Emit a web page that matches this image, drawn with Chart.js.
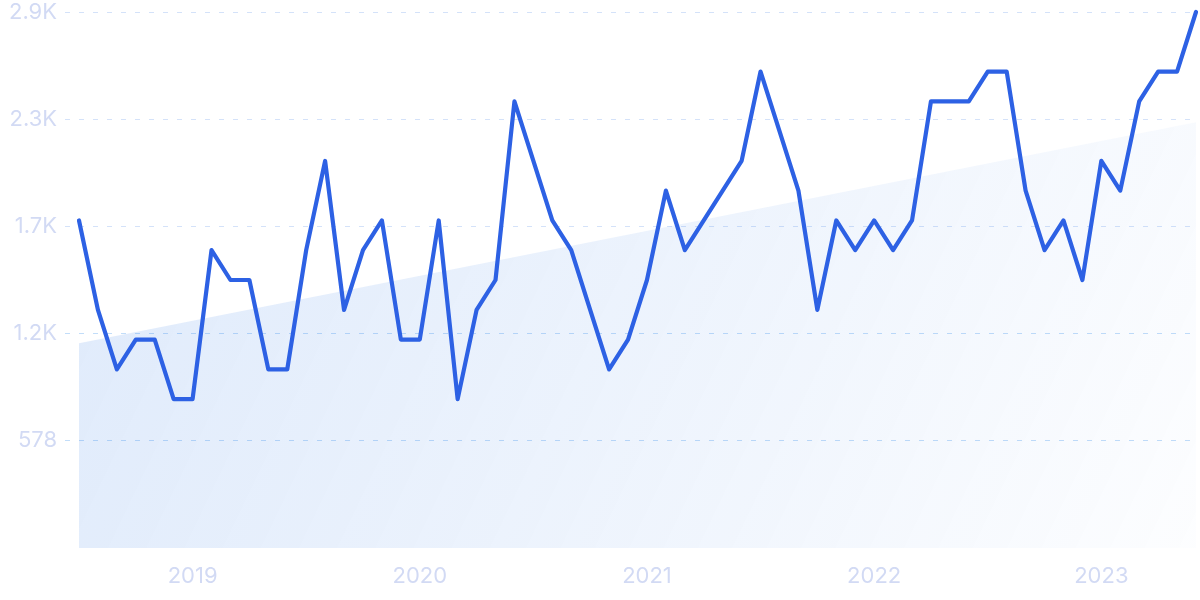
<!DOCTYPE html>
<html>
<head>
<meta charset="utf-8">
<script src="https://cdn.jsdelivr.net/npm/chart.js@4.4.1/dist/chart.umd.min.js"></script>
<style>
  html, body { margin: 0; padding: 0; background: #ffffff; }
  #wrap { width: 1200px; height: 600px; position: relative; }
</style>
</head>
<body>
<div id="wrap"><canvas id="c"></canvas></div>
<script>
// Monthly categories, Jul 2018 - Jun 2023
const months = [
  '2018-07','2018-08','2018-09','2018-10','2018-11','2018-12',
  '2019-01','2019-02','2019-03','2019-04','2019-05','2019-06','2019-07','2019-08','2019-09','2019-10','2019-11','2019-12',
  '2020-01','2020-02','2020-03','2020-04','2020-05','2020-06','2020-07','2020-08','2020-09','2020-10','2020-11','2020-12',
  '2021-01','2021-02','2021-03','2021-04','2021-05','2021-06','2021-07','2021-08','2021-09','2021-10','2021-11','2021-12',
  '2022-01','2022-02','2022-03','2022-04','2022-05','2022-06','2022-07','2022-08','2022-09','2022-10','2022-11','2022-12',
  '2023-01','2023-02','2023-03','2023-04','2023-05','2023-06'
];

// Series values
const values = [
  1766, 1284, 963, 1124, 1124, 803, 803, 1606, 1445, 1445,
  963, 963, 1606, 2087, 1284, 1606, 1766, 1124, 1124, 1766,
  803, 1284, 1445, 2408, 2087, 1766, 1606, 1284, 963, 1124,
  1445, 1927, 1606, 1766, 1927, 2087, 2569, 2248, 1927, 1284,
  1766, 1606, 1766, 1606, 1766, 2408, 2408, 2408, 2569, 2569,
  1927, 1606, 1766, 1445, 2087, 1927, 2408, 2569, 2569, 2890
];

// Trend band: start and end values
const trendStart = 1104;
const trendEnd = 2296;

// Axis ticks
const yTickValues = [578, 1156, 1734, 2312, 2890];
const yTickLabels = ['578', '1.2K', '1.7K', '2.3K', '2.9K'];
const xTickLabels = ['2019', '2020', '2021', '2022', '2023'];
const yMax = 2890;

const tickColor = '#d2daf4';
const gridColorUpper = '#d4e2f9';
const gridColorLower = '#c2ddf9';

function gridColorFor(ctx) {
  const v = ctx.tick ? ctx.tick.value : 0;
  return v <= 1156 ? gridColorLower : gridColorUpper;
}

const ctx = document.getElementById('c').getContext('2d');

function trendGradient(context) {
  const chart = context.chart;
  const a = chart.chartArea;
  if (!a) return 'rgba(45,120,230,0.1)';
  const g = chart.ctx.createLinearGradient(a.left, a.top, a.right, a.bottom);
  g.addColorStop(0, 'rgba(45,120,230,0.16)');
  g.addColorStop(0.5, 'rgba(45,120,230,0.09)');
  g.addColorStop(1, 'rgba(45,120,230,0.01)');
  return g;
}

new Chart(ctx, {
  type: 'line',
  data: {
    labels: months,
    datasets: [
      {
        data: values,
        borderColor: '#2d61e4',
        borderWidth: 4.2,
        tension: 0,
        pointRadius: 0,
        pointHoverRadius: 0,
        borderJoinStyle: 'round',
        borderCapStyle: 'round',
        fill: false,
        clip: 8
      },
      {
        data: [{x: months[0], y: trendStart}, {x: months[months.length - 1], y: trendEnd}],
        borderWidth: 0,
        borderColor: 'rgba(0,0,0,0)',
        backgroundColor: trendGradient,
        pointRadius: 0,
        fill: 'origin',
        tension: 0
      }
    ]
  },
  options: {
    responsive: true,
    maintainAspectRatio: false,
    devicePixelRatio: 1,
    animation: false,
    layout: { padding: { top: 12, right: 4, bottom: 0, left: 0 } },
    plugins: { legend: { display: false }, tooltip: { enabled: false } },
    scales: {
      x: {
        offset: false,
        grid: { display: false, drawTicks: false },
        border: { display: false },
        afterFit: function (scale) {
          scale.height = 52;
          scale.paddingLeft = 0;
          scale.paddingRight = 0;
        },
        ticks: {
          autoSkip: false,
          maxRotation: 0,
          padding: 15,
          color: tickColor,
          font: { family: 'Inter', size: 22 },
          callback: function (val) {
            const lab = this.getLabelForValue(val);
            if (lab.endsWith('-01')) {
              const y = lab.slice(0, 4);
              const i = xTickLabels.indexOf(y);
              return i >= 0 ? xTickLabels[i] : '';
            }
            return '';
          }
        }
      },
      y: {
        min: 0,
        max: yMax,
        afterBuildTicks: function (scale) {
          scale.ticks = yTickValues.map(v => ({ value: v }));
        },
        afterFit: function (scale) {
          scale.width = 79;
          scale.paddingTop = 0;
          scale.paddingBottom = 0;
        },
        grid: {
          color: gridColorFor,
          lineWidth: 1,
          drawTicks: true,
          tickLength: 14,
          tickColor: gridColorFor,
          tickBorderDash: [5, 9]
        },
        border: { display: false, dash: [5, 9] },
        ticks: {
          padding: 8,
          color: tickColor,
          font: { family: 'Inter', size: 22 },
          callback: function (val) {
            const i = yTickValues.indexOf(val);
            return i >= 0 ? yTickLabels[i] : '';
          }
        }
      }
    }
  }
});
</script>
</body>
</html>
